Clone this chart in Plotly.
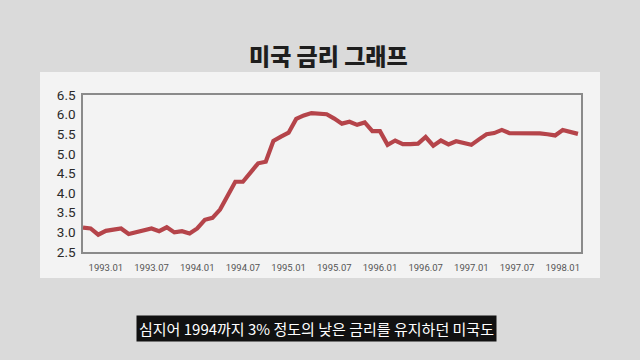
import plotly.graph_objects as go

months = [
    "1992.10", "1992.11", "1992.12",
    "1993.01", "1993.02", "1993.03", "1993.04", "1993.05", "1993.06",
    "1993.07", "1993.08", "1993.09", "1993.10", "1993.11", "1993.12",
    "1994.01", "1994.02", "1994.03", "1994.04", "1994.05", "1994.06",
    "1994.07", "1994.08", "1994.09", "1994.10", "1994.11", "1994.12",
    "1995.01", "1995.02", "1995.03", "1995.04", "1995.05", "1995.06",
    "1995.07", "1995.08", "1995.09", "1995.10", "1995.11", "1995.12",
    "1996.01", "1996.02", "1996.03", "1996.04", "1996.05", "1996.06",
    "1996.07", "1996.08", "1996.09", "1996.10", "1996.11", "1996.12",
    "1997.01", "1997.02", "1997.03", "1997.04", "1997.05", "1997.06",
    "1997.07", "1997.08", "1997.09", "1997.10", "1997.11", "1997.12",
    "1998.01", "1998.02", "1998.03",
]
rates = [
    3.12, 3.10, 2.94,
    3.04, 3.07, 3.10, 2.96, 3.01, 3.05,
    3.10, 3.03, 3.13, 3.00, 3.03, 2.97,
    3.10, 3.32, 3.37, 3.58, 3.93, 4.29,
    4.29, 4.53, 4.76, 4.80, 5.33, 5.44,
    5.54, 5.89, 5.98, 6.04, 6.03, 6.01,
    5.90, 5.77, 5.82, 5.74, 5.80, 5.58,
    5.58, 5.23, 5.34, 5.25, 5.25, 5.26,
    5.43, 5.21, 5.34, 5.24, 5.32, 5.28,
    5.23, 5.37, 5.50, 5.53, 5.61, 5.53,
    5.53, 5.53, 5.53, 5.52, 5.50, 5.47,
    5.61, 5.57, 5.51,
]
tick_labels = ["1993.01", "1993.07", "1994.01", "1994.07", "1995.01", "1995.07",
               "1996.01", "1996.07", "1997.01", "1997.07", "1998.01"]
y_ticks = [2.5, 3.0, 3.5, 4.0, 4.5, 5.0, 5.5, 6.0, 6.5]

title_text = "미국 금리 그래프"
caption_text = "심지어 1994까지 3% 정도의 낮은 금리를 유지하던 미국도"

idx = list(range(len(months)))
tickvals = [months.index(t) for t in tick_labels]

# pixel -> paper conversion helpers (plot area: x 83..581, y 95..252)
L, R, T, B = 83, 581, 95, 252
def px(x):
    return (x - L) / (R - L)
def py(y):
    return (B - y) / (B - T)

fig = go.Figure()
fig.add_trace(go.Scatter(
    x=idx, y=rates, mode="lines",
    line=dict(color="#b5444a", width=4.2),
    hoverinfo="skip", showlegend=False,
))

fig.update_layout(
    width=640, height=360,
    margin=dict(l=L, r=640 - R, t=T, b=360 - B, pad=0),
    paper_bgcolor="#dadada",
    plot_bgcolor="#f6f6f6",
    xaxis=dict(
        range=[0, len(months) - 1 + 0.4],
        tickvals=tickvals, ticktext=tick_labels,
        showgrid=False, zeroline=False, ticks="",
        showline=True, linecolor="#8a8a8a", linewidth=1.5, mirror=True,
        tickfont=dict(family="Roboto", size=9.5, color="#555555"),
        ticklabelstandoff=6,
    ),
    yaxis=dict(
        range=[2.5, 6.5], tickvals=y_ticks, tickformat=".1f",
        showgrid=False, zeroline=False, ticks="",
        showline=True, linecolor="#8a8a8a", linewidth=1.5, mirror=True,
        tickfont=dict(family="Roboto", size=13.5, color="#2a2a2a"),
        ticklabelstandoff=3,
    ),
    shapes=[
        dict(type="rect", xref="paper", yref="paper",
             x0=px(40), x1=px(600), y0=py(278), y1=py(72),
             fillcolor="#f3f3f3", line=dict(width=0), layer="below"),
    ],
    annotations=[
        dict(text=title_text, xref="paper", yref="paper",
             x=px(328), y=py(55), xanchor="center", yanchor="middle",
             showarrow=False,
             font=dict(family="Noto Sans CJK KR", size=23, color="#1e1e1e",
                       weight=900)),
        dict(text=caption_text, xref="paper", yref="paper",
             x=px(316), y=py(328), xanchor="center", yanchor="middle",
             showarrow=False, bgcolor="#111111", borderpad=2,
             font=dict(family="Noto Sans CJK KR", size=15, color="#ffffff")),
    ],
)

fig.write_html("out.html")
